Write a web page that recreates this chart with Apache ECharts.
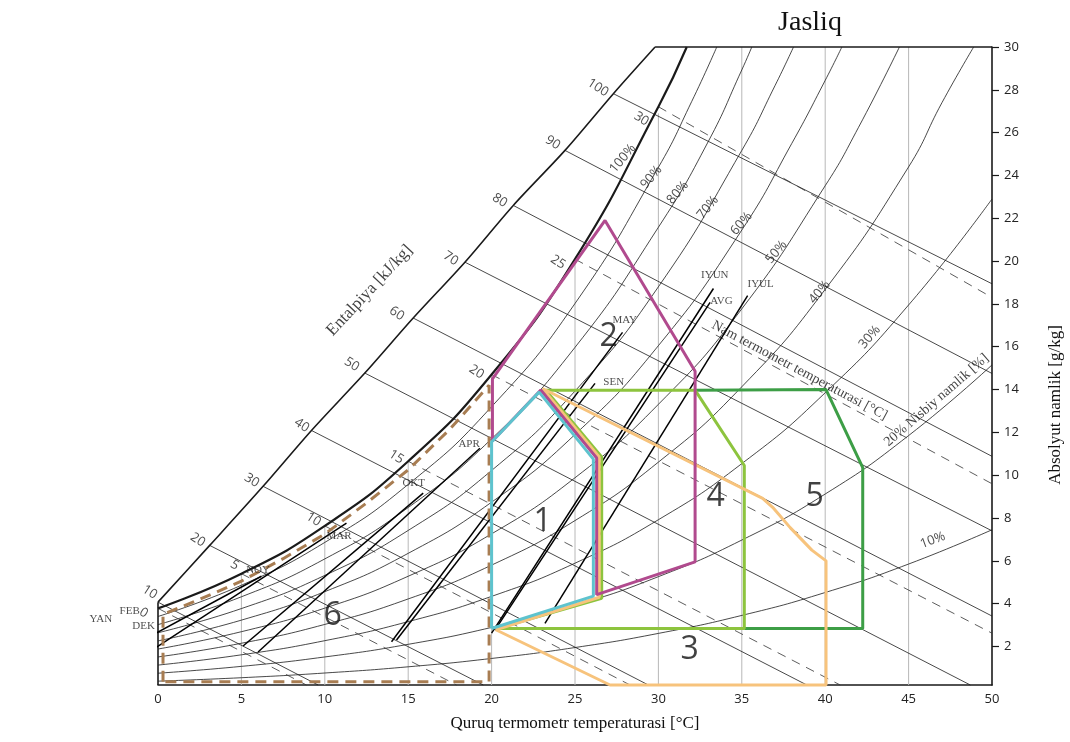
<!DOCTYPE html>
<html>
<head>
<meta charset="utf-8">
<script src="https://cdn.jsdelivr.net/npm/echarts@6/dist/echarts.min.js"></script>
<style>
  html, body { margin: 0; padding: 0; background: #fff; }
  #chart { width: 1070px; height: 742px; }
</style>
</head>
<body>
<div id="chart"></div>
<script>
// ---------- psychrometric chart data (T in °C, x in g/kg) ----------

// relative humidity curves
const rh100 = [[0,3.78],[5,5.40],[10,7.63],[15,10.65],[20,14.70],[25,20.09],[30,27.21],[31.7,30]];
const rh90  = [[0,3.40],[5,4.86],[10,6.86],[15,9.57],[20,13.20],[25,18.02],[30,24.38],[32,27.46],[33.5,30]];
const rh80  = [[0,3.02],[5,4.32],[10,6.09],[15,8.49],[20,11.70],[25,15.97],[30,21.58],[33,25.6],[35,28.93],[35.6,30]];
const rh70  = [[0,2.64],[5,3.77],[10,5.32],[15,7.42],[20,10.22],[25,13.93],[30,18.80],[35,25.17],[37,28.21],[38.1,30]];
const rh60  = [[0,2.26],[5,3.23],[10,4.56],[15,6.35],[20,8.74],[25,11.90],[30,16.05],[35,21.45],[38,25.5],[40,28.44],[41.0,30]];
const rh50  = [[0,1.88],[5,2.69],[10,3.79],[15,5.28],[20,7.26],[25,9.88],[30,13.31],[35,17.77],[40,23.52],[42,26.25],[44.45,30]];
const rh40  = [[0,1.51],[5,2.15],[10,3.03],[15,4.22],[20,5.80],[25,7.88],[30,10.61],[35,14.13],[40,18.68],[45,24.40],[47,27.4],[48.9,30]];
const rh30  = [[0,1.13],[5,1.61],[10,2.27],[15,3.16],[20,4.34],[25,5.89],[30,7.92],[35,10.54],[40,13.85],[45,17.95],[50,22.9]];
const rh20  = [[0,0.75],[5,1.07],[10,1.51],[15,2.10],[20,2.89],[25,3.92],[30,5.26],[35,6.97],[40,9.12],[45,11.85],[50,15.15]];
const rh10  = [[0,0.38],[5,0.54],[10,0.76],[15,1.05],[20,1.44],[25,1.95],[30,2.61],[35,3.45],[40,4.52],[45,5.85],[50,7.45]];

// enthalpy scale edge (where the enthalpy lines begin)
const enthalpyEdge = [[0,4.07],[3.1,6.72],[6.3,9.48],[9.2,12.09],[12.4,14.77],[15.3,17.34],[18.4,19.95],[21.3,22.6],[24.4,25.17],[27.3,27.82],[29.8,30]];

// enthalpy lines [kJ/kg]
const enthalpyLevels = [10,20,30,40,50,60,70,80,90,100];
const enthalpyStart  = [[0,4.07],[3.1,6.72],[6.3,9.48],[9.2,12.09],[12.4,14.77],[15.3,17.34],[18.4,19.95],[21.3,22.6],[24.4,25.17],[27.3,27.82]];
const enthalpyEnd    = [[9.6,0.2],[19.5,0.2],[29.4,0.2],[38.9,0.2],[48.7,0.2],[50,3.42],[50,7.4],[50,10.88],[50,14.75],[50,18.94]];

// wet-bulb lines [°C]
const wetBulbLevels = [0,5,10,15,20,25,30];
const wetBulbStart  = [[0,3.78],[5,5.40],[10,7.63],[15,10.65],[20,14.70],[25,20.09],[30,27.21]];
const wetBulbEnd    = [[8.9,0.2],[17.9,0.2],[28.3,0.2],[40.9,0.2],[50,2.62],[50,9.6],[50,18.3]];

// dry-bulb grid lines, each running up to the saturation curve
const gridTemps = [5,10,15,20,25,30,35,40,45];
const gridTops  = [5.40,7.63,10.65,14.70,19.9,26.9,30,30,30];

// monthly daily-range lines
const monthNames = ['YAN','FEB','DEK','NOY','MAR','OKT','APR','MAY','SEN','IYUN','AVG','IYUL'];
const monthStart = [[-9.0,1.55],[-5.3,1.79],[-7.2,1.55],[-2.0,1.83],[-1.0,1.50],[5.1,2.02],[6.0,1.74],[14.0,2.22],[14.3,2.30],[20.0,2.62],[20.2,2.76],[23.2,3.08]];
const monthEnd   = [[-2.7,2.92],[-0.6,3.36],[-1.1,3.17],[6.2,5.28],[11.3,7.76],[15.9,9.16],[19.3,11.26],[27.85,16.67],[26.2,14.29],[33.3,18.72],[33.1,18.07],[35.35,18.39]];

// design strategy zones
const zone1 = [[20.0,2.84],[20.0,11.55],[22.85,13.88],[26.1,10.75],[26.1,4.35],[20.0,2.84]];
const zone2 = [[20.05,11.6],[20.05,14.5],[26.8,21.9],[32.2,14.85],[32.2,5.95],[26.3,4.42],[26.3,10.8],[22.95,13.98],[20.05,11.6]];
const zone3 = [[23.05,14.05],[36.25,8.92],[36.85,8.5],[37.9,7.55],[39.2,6.5],[40.05,6.0],[40.05,0.2],[27.1,0.2],[20.25,2.78],[26.45,4.3],[26.45,10.85],[23.05,14.05]];
const zone4 = [[20.3,2.84],[35.15,2.84],[35.15,10.45],[32.2,13.97],[23.25,13.97],[26.6,10.85],[26.6,4.25],[20.3,2.84]];
const zone5 = [[32.2,13.97],[40.05,14.0],[42.25,10.35],[42.25,2.84],[35.15,2.84]];
const zone6 = [[0.3,0.35],[0.3,3.5],[2.5,4.2],[5,5.05],[7.5,6.1],[10,7.25],[12.5,8.7],[15,10.25],[17.5,12.15],[19.85,14.2],[19.85,0.35],[0.3,0.35]];

// axis ticks
const xTicks = [0,5,10,15,20,25,30,35,40,45,50];
const yTicks = [2,4,6,8,10,12,14,16,18,20,22,24,26,28,30];

// ---------- label anchors (data coordinates) ----------
const enthalpyLabelPos = [[-0.5,4.54],[2.38,6.98],[5.62,9.76],[8.62,12.33],[11.62,15.17],[14.31,17.55],[17.55,20.12],[20.49,22.83],[23.67,25.53],[26.37,28.10]];
const wetBulbLabelPos  = [[-0.86,3.57],[4.6,5.8],[9.33,7.93],[14.29,10.85],[19.09,14.82],[23.98,19.95],[28.98,26.64]];
const rhLabelText = ['100%','90%','80%','70%','60%','50%','40%','30%'];
const rhLabelPos  = [[27.86,24.79],[29.58,23.92],[31.16,23.2],[32.96,22.5],[34.98,21.75],[37.07,20.42],[39.67,18.55],[42.67,16.45]];
const monthLabelPos = [[-3.43,3.28],[-1.70,3.65],[-0.86,2.95],[6.0,5.56],[10.85,7.15],[15.33,9.65],[18.65,11.43],[27.98,17.26],[27.32,14.35],[33.38,19.33],[33.78,18.11],[36.13,18.94]];
const zoneNames = ['1','2','3','4','5','6'];
const zoneLabelPos = [[23.06,7.8],[27.02,16.48],[31.87,1.83],[33.43,8.97],[39.37,8.97],[10.47,3.42]];

// ---------- styling ----------
const SANS = '"Open Sans", "Noto Sans", sans-serif';
const SERIF = '"Liberation Serif", "DejaVu Serif", serif';
const INK = '#1a1a1a';

const series = [];
function addLine(data, opts) {
  series.push(Object.assign({
    type: 'line', data: data, showSymbol: false, symbol: 'none', silent: true,
    animation: false, z: 2, clip: false,
    lineStyle: { color: INK, width: 0.8 }
  }, opts));
}

// dry-bulb grid lines
gridTemps.forEach((t, i) => addLine([[t, 0.2], [t, gridTops[i]]], { z: 1, lineStyle: { color: '#b8b8b8', width: 1 } }));

// relative humidity curves
[rh90, rh80, rh70, rh60, rh50, rh40, rh30, rh20, rh10].forEach(c =>
  addLine(c, { smooth: 0.5, lineStyle: { color: INK, width: 0.8 } }));
addLine(rh100, { smooth: 0.5, z: 3, lineStyle: { color: INK, width: 2.2 } });

// enthalpy scale edge and chart frame pieces
addLine(enthalpyEdge, { smooth: 0.3, z: 3, lineStyle: { color: INK, width: 1.6 } });
addLine([[29.8, 30], [50, 30]], { z: 3, lineStyle: { color: INK, width: 1.4 } });
addLine([[0, 0.2], [0, 4.07]], { z: 3, lineStyle: { color: INK, width: 1.6 } });

// enthalpy lines
enthalpyLevels.forEach((h, i) => addLine([enthalpyStart[i], enthalpyEnd[i]], { lineStyle: { color: INK, width: 0.8 } }));

// wet-bulb lines
wetBulbLevels.forEach((t, i) => addLine([wetBulbStart[i], wetBulbEnd[i]], { lineStyle: { color: '#333', width: 0.8, type: [9, 7] } }));

// monthly lines
monthNames.forEach((m, i) => addLine([monthStart[i], monthEnd[i]], { z: 4, lineStyle: { color: '#000', width: 1.5 } }));

// zones
addLine(zone6, { z: 5, lineStyle: { color: '#A87D52', width: 3, type: [11, 7] } });
addLine(zone5, { z: 5, lineStyle: { color: '#3D9E46', width: 3 } });
addLine(zone4, { z: 6, lineStyle: { color: '#8DC43E', width: 3 } });
addLine(zone3, { z: 7, lineStyle: { color: '#F7C37C', width: 3 } });
addLine(zone2, { z: 8, lineStyle: { color: '#B14A8E', width: 3 } });
addLine(zone1, { z: 9, lineStyle: { color: '#5EC3CE', width: 3 } });

// text labels anchored in data space
function addLabels(items, style) {
  series.push({
    type: 'scatter', silent: true, animation: false, z: 20, clip: false,
    symbolSize: 1, itemStyle: { color: 'rgba(0,0,0,0)' },
    data: items.map(it => ({
      value: it.pos,
      label: { show: true, position: 'inside', formatter: it.text, rotate: it.rotate || 0 }
    })),
    label: Object.assign({ show: true, color: INK }, style)
  });
}

addLabels(enthalpyLevels.map((h, i) => ({ pos: enthalpyLabelPos[i], text: String(h), rotate: -33 })),
  { fontFamily: SANS, fontSize: 13 });
addLabels(wetBulbLevels.map((t, i) => ({ pos: wetBulbLabelPos[i], text: String(t), rotate: -33 })),
  { fontFamily: SANS, fontSize: 13 });
addLabels(rhLabelText.map((t, i) => ({ pos: rhLabelPos[i], text: t, rotate: 50 })),
  { fontFamily: SANS, fontSize: 13 });
addLabels([{ pos: [46.45, 6.96], text: '10%', rotate: 20 }], { fontFamily: SANS, fontSize: 13 });
addLabels(monthNames.map((m, i) => ({ pos: monthLabelPos[i], text: m })),
  { fontFamily: SERIF, fontSize: 11, color: '#222' });
addLabels(zoneNames.map((z, i) => ({ pos: zoneLabelPos[i], text: z })),
  { fontFamily: SANS, fontSize: 32, color: '#111' });
addLabels([
  { pos: [12.69, 18.63], text: 'Entalpiya [kJ/kg]', rotate: 47 },
], { fontFamily: SERIF, fontSize: 17, color: '#111' });
addLabels([
  { pos: [38.46, 14.89], text: 'Nam termometr temperaturasi [°C]', rotate: -28 },
  { pos: [46.67, 13.5], text: '20% Nisbiy namlik [%]', rotate: 41 }
], { fontFamily: SERIF, fontSize: 14, color: '#111' });

const chart = echarts.init(document.getElementById('chart'), null, { renderer: 'canvas' });
chart.setOption({
  animation: false,
  backgroundColor: '#fff',
  grid: { left: 158, right: 78, top: 47, bottom: 57, containLabel: false },
  xAxis: {
    type: 'value', min: 0, max: 50, interval: 5,
    name: 'Quruq termometr temperaturasi [°C]', nameLocation: 'middle', nameGap: 30,
    nameTextStyle: { fontFamily: SERIF, fontSize: 17, color: '#111' },
    axisLine: { show: true, onZero: false, lineStyle: { color: INK, width: 1.6 } },
    axisTick: { show: false },
    axisLabel: { fontFamily: SANS, fontSize: 13, color: '#222', margin: 8,
      customValues: xTicks },
    splitLine: { show: false }
  },
  yAxis: {
    type: 'value', position: 'right', min: 0.2, max: 30,
    axisLine: { show: true, onZero: false, lineStyle: { color: INK, width: 1.6 } },
    axisTick: { show: true, inside: false, length: 7, customValues: yTicks, lineStyle: { color: INK, width: 1.2 } },
    axisLabel: { fontFamily: SANS, fontSize: 13, color: '#222', margin: 12, customValues: yTicks },
    splitLine: { show: false }
  },
  graphic: [
    { type: 'text', x: 810, y: 23, silent: true,
      style: { text: 'Jasliq', font: '28px ' + SERIF, fill: '#111', align: 'center', verticalAlign: 'middle' } },
    { type: 'text', x: 1056, y: 405, rotation: Math.PI / 2, silent: true,
      style: { text: 'Absolyut namlik [g/kg]', font: '17px ' + SERIF, fill: '#111', align: 'center', verticalAlign: 'middle' } }
  ],
  series: series
});
</script>
</body>
</html>
